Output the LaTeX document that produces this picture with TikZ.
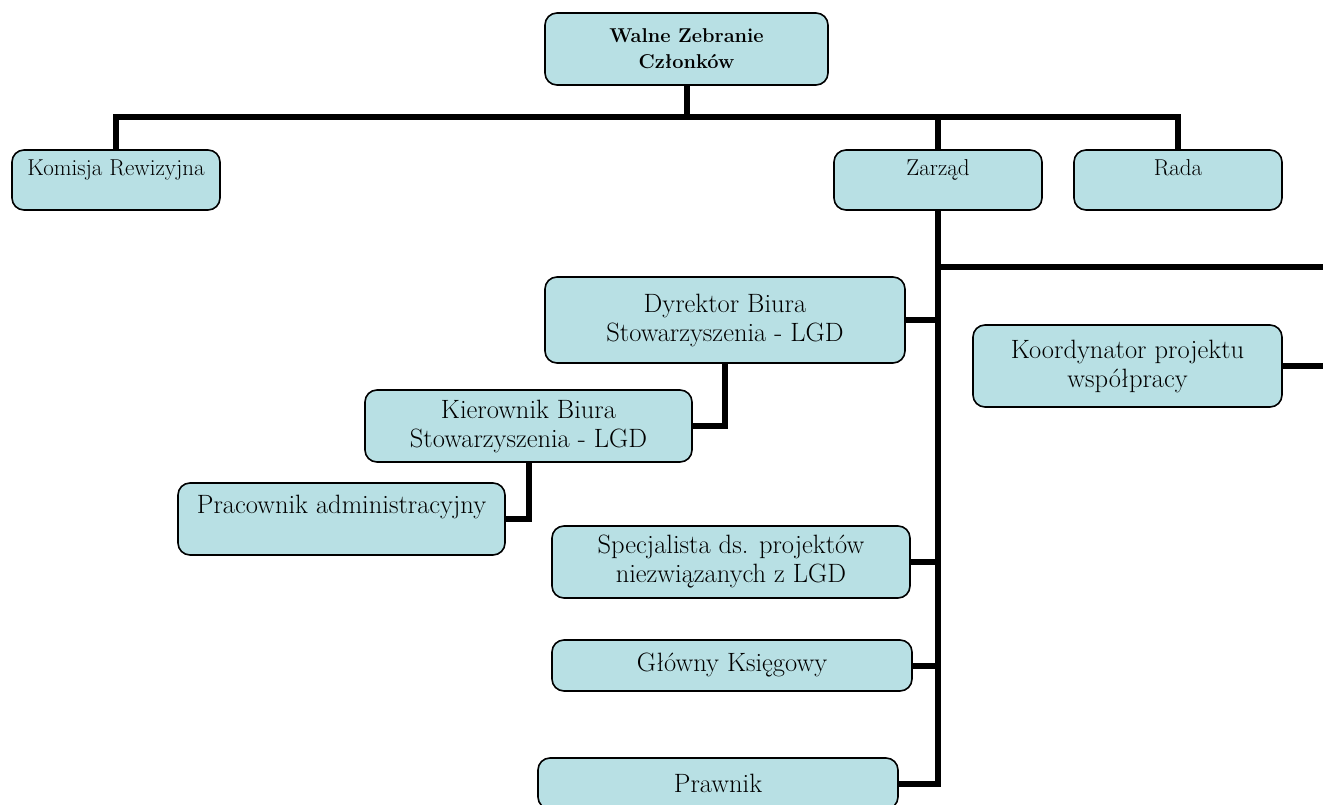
\documentclass[tikz,border=0pt]{standalone}
\definecolor{boxfill}{RGB}{184,224,228}

\begin{document}
\begin{tikzpicture}[x=1pt, y=-1pt,
    unit/.style  = {draw, fill=boxfill, rounded corners=12pt, line width=1.6pt, align=center, inner sep=0,
                    font=\fontsize{26.5}{29}\selectfont},
    small/.style = {font=\fontsize{23}{25}\selectfont},
    link/.style  = {line width=6pt}]
    \useasboundingbox (0,0) rectangle (1323,805);

    \node[unit, minimum width=283, minimum height=72, font=\bfseries\fontsize{20}{26}\selectfont]
                                                          (walne)    at (686.5,49)   {Walne Zebranie\\Członków};
    \node[unit, small, minimum width=208, minimum height=60] (komisja)  at (116,180)    {Komisja Rewizyjna\\~};
    \node[unit, small, minimum width=208, minimum height=60] (zarzad)   at (938,180)    {Zarząd\\~};
    \node[unit, small, minimum width=208, minimum height=60] (rada)     at (1178,180)   {Rada\\~};

    \node[unit, minimum width=360, minimum height=86]      (dyrektor) at (725,320)    {Dyrektor Biura\\Stowarzyszenia - LGD};
    \node[unit, minimum width=309, minimum height=82]      (koord)    at (1127.5,366) {Koordynator projektu\\współpracy};
    \node[unit, minimum width=327, minimum height=72]      (kier)     at (528.5,426)  {Kierownik Biura\\Stowarzyszenia - LGD};
    \node[unit, minimum width=327, minimum height=72]      (prac)     at (341.5,519)  {Pracownik administracyjny\\~};
    \node[unit, minimum width=358, minimum height=72]      (spec)     at (731,562)    {Specjalista ds. projektów\\niezwiązanych z LGD};
    \node[unit, minimum width=360, minimum height=51]      (glowny)   at (732,665.5)  {Główny Księgowy};
    \node[unit, minimum width=360, minimum height=51]      (prawnik)  at (718,783.5)  {Prawnik};

    \draw[link] (walne.south) -- ++(0,31) coordinate (bus);
    \draw[link] (bus) -| (komisja.north);
    \draw[link] (bus) -| (zarzad.north);
    \draw[link] (bus) -| (rada.north);

    \draw[link] (zarzad.south) |- (prawnik.east);
    \draw[link] (dyrektor.east) -- (dyrektor.east -| zarzad.south);
    \draw[link] (spec.east)     -- (spec.east -| zarzad.south);
    \draw[link] (glowny.east)   -- (glowny.east -| zarzad.south);

    \coordinate (rim) at (1327,267);
    \draw[link] (zarzad.south |- rim) -- (rim) |- (koord.east);

    \draw[link] (dyrektor.south) |- (kier.east);
    \draw[link] (kier.south)     |- (prac.east);
  \end{tikzpicture}
\end{document}
